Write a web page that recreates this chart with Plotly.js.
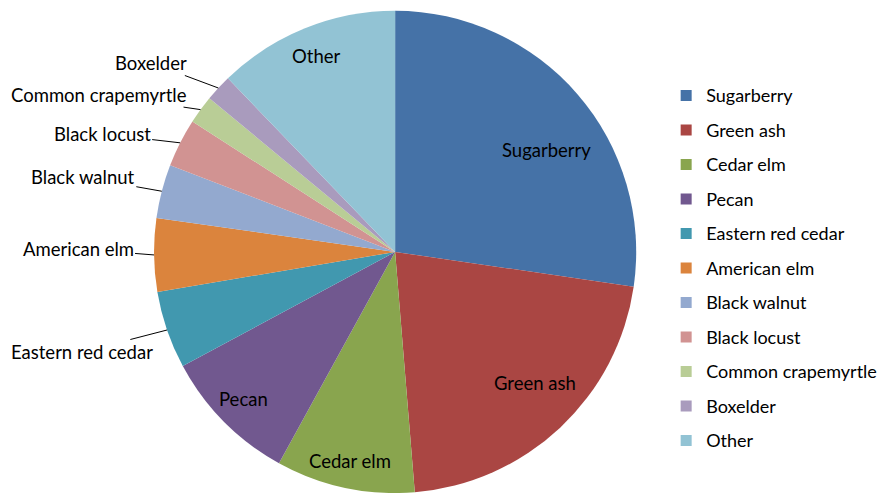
<!DOCTYPE html>
<html>
<head>
<meta charset="utf-8">
<script src="https://cdn.plot.ly/plotly-3.0.1.min.js"></script>
<style>html,body{margin:0;padding:0;background:#fff;}#chart{width:880px;height:493px;}</style>
</head>
<body>
<div id="chart"></div>
<script>
// ---- data ----
const categories = ["Sugarberry","Green ash","Cedar elm","Pecan","Eastern red cedar","American elm","Black walnut","Black locust","Common crapemyrtle","Boxelder","Other"];
const shares = [27.3, 21.4, 9.3, 9.15, 5.2, 4.9, 3.6, 3.25, 1.9, 1.8, 12.2];

// ---- styles / label placement config ----
const colors = ["#4572A7","#AA4643","#89A54E","#71588F","#4198AF","#DB843D","#93A9CF","#D19392","#B9CD96","#A99BBD","#92C3D4"];
// inside labels: [radius fraction, angle tweak in degrees]; outside labels: [text offset x px, offset y px]
const labelMode = ["in","in","in","in","out","out","out","out","out","out","in"];
const labelCfg = [[0.756, 6.8],[0.795,-3.7],[0.887,0],[0.877,0.7],[-85,22],[-76,-6],[-79,-14],[-78,-9],[-102,-15],[-67,-25],[0.877,0]];

const FONT = "Lato, 'Open Sans', sans-serif";
const W = 880, H = 493;
const dom = {x: [0.174, 0.724], y: [0.0, 0.978]};

const pie = {
  type: "pie",
  labels: categories,
  values: shares,
  sort: false,
  direction: "clockwise",
  rotation: 0,
  marker: {colors: colors, line: {width: 0}},
  textinfo: "none",
  showlegend: false,
  domain: dom,
  automargin: false,
  hoverinfo: "label+percent"
};

const legendTraces = categories.map((c, i) => ({
  type: "scatter",
  mode: "markers",
  x: [null], y: [null],
  name: c,
  legendgroup: "g" + i,
  marker: {symbol: "square", size: 11, color: colors[i]},
  showlegend: true,
  hoverinfo: "skip"
}));

// pie geometry in pixels
const cx = (dom.x[0] + dom.x[1]) / 2 * W;
const cy = (1 - (dom.y[0] + dom.y[1]) / 2) * H;
const R = Math.min((dom.x[1] - dom.x[0]) * W, (dom.y[1] - dom.y[0]) * H) / 2;
const total = shares.reduce((a, b) => a + b, 0);

const annotations = [];
let cum = 0;
shares.forEach((v, i) => {
  const mid = (cum + v / 2) / total * 360;
  cum += v;
  if (labelMode[i] === "in") {
    const a = (mid + labelCfg[i][1]) * Math.PI / 180;
    const rr = labelCfg[i][0] * R;
    const px = cx + rr * Math.sin(a), py = cy - rr * Math.cos(a);
    annotations.push({
      x: px / W, y: 1 - py / H, xref: "paper", yref: "paper",
      text: categories[i], showarrow: false,
      xanchor: "center", yanchor: "middle",
      font: {family: FONT, size: 18.5, color: "#000"}
    });
  } else {
    const a = mid * Math.PI / 180;
    const px = cx + R * Math.sin(a), py = cy - R * Math.cos(a);
    annotations.push({
      x: px / W, y: 1 - py / H, xref: "paper", yref: "paper",
      text: categories[i], showarrow: true,
      ax: labelCfg[i][0], ay: labelCfg[i][1],
      arrowhead: 0, arrowwidth: 1, arrowcolor: "#000", standoff: 0, startstandoff: 0,
      borderpad: 1,
      font: {family: FONT, size: 18.5, color: "#000"}
    });
  }
});

const layout = {
  width: W, height: H,
  margin: {l: 0, r: 0, t: 0, b: 0, autoexpand: false},
  paper_bgcolor: "#fff",
  plot_bgcolor: "#fff",
  font: {family: FONT, size: 18, color: "#000"},
  xaxis: {visible: false},
  yaxis: {visible: false},
  showlegend: true,
  annotations: annotations,
  legend: {
    x: 0.757, xanchor: "left",
    y: 0.456, yanchor: "middle",
    font: {family: FONT, size: 18, color: "#000"},
    tracegroupgap: 8.1,
    itemclick: false
  }
};

Plotly.newPlot("chart", [pie].concat(legendTraces), layout, {displayModeBar: false, staticPlot: true});
</script>
</body>
</html>
